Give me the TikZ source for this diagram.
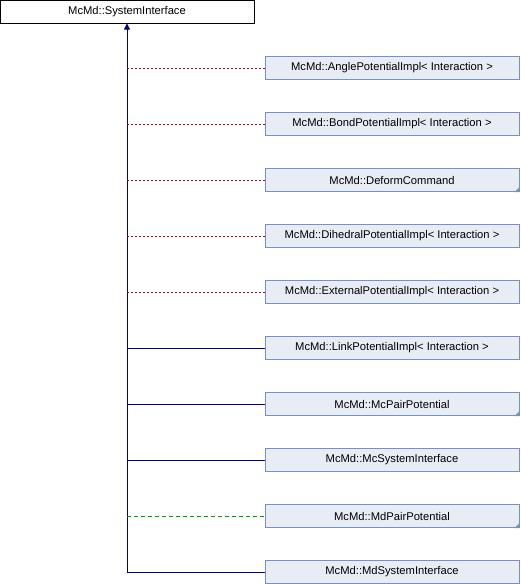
\documentclass[tikz,border=0pt]{standalone}
\usepackage{fontspec}
\setmainfont{Liberation Sans}
\usetikzlibrary{arrows.meta}

\definecolor{boxfill}{RGB}{232,236,245}
\definecolor{boxline}{RGB}{122,143,200}
\definecolor{publine}{RGB}{0,0,140}
\definecolor{privline}{RGB}{170,0,0}
\definecolor{protline}{RGB}{0,160,0}

\tikzset{
    classbox/.style={draw=boxline, fill=boxfill, line width=1pt, minimum width=254pt, minimum height=23pt, inner sep=0pt, font=\fontsize{11.2}{13}\selectfont},
    basebox/.style={classbox, draw=black, fill=white},
    pubedge/.style={draw=publine, line width=1pt},
    privedge/.style={draw=privline, line width=1pt, dash pattern=on 2pt off 2pt},
    protedge/.style={draw=protline, line width=1pt, dash pattern=on 4pt off 3pt},
    corner/.style={fill=boxline, draw=none}
}

\begin{document}
\begin{tikzpicture}[x=1pt,y=-1pt]
    \useasboundingbox (0,0) rectangle (520,584);

    % the base class
    \node[basebox] (base) at (127,11.5) {McMd::SystemInterface};

    % the derived classes
    \node[classbox] (angle) at (392,68) {McMd::AnglePotentialImpl< Interaction >};
    \node[classbox] (bond) at (392,124) {McMd::BondPotentialImpl< Interaction >};
    \node[classbox] (deform) at (392,180) {McMd::DeformCommand};
    \node[classbox] (dihedral) at (392,236) {McMd::DihedralPotentialImpl< Interaction >};
    \node[classbox] (external) at (392,292) {McMd::ExternalPotentialImpl< Interaction >};
    \node[classbox] (link) at (392,348) {McMd::LinkPotentialImpl< Interaction >};
    \node[classbox] (mcpair) at (392,404) {McMd::McPairPotential};
    \node[classbox] (mcsys) at (392,460) {McMd::McSystemInterface};
    \node[classbox] (mdpair) at (392,516) {McMd::MdPairPotential};
    \node[classbox] (mdsys) at (392,572) {McMd::MdSystemInterface};

    % the little corner marks (classes with more below them)
    \fill[corner] (deform.south east) -- ++(-5,0) -- ++(5,-5) -- cycle;
    \fill[corner] (mcpair.south east) -- ++(-5,0) -- ++(5,-5) -- cycle;
    \fill[corner] (mdpair.south east) -- ++(-5,0) -- ++(5,-5) -- cycle;

    % the trunk with the arrow to the base class
    \coordinate (trunk) at (base.south |- mdsys.west);
    \draw[pubedge, -{Triangle[length=6pt,width=6pt]}] (trunk) -- (base.south);

    % the branches
    \draw[privedge] (base.south |- angle.west) -- (angle.west);
    \draw[privedge] (base.south |- bond.west) -- (bond.west);
    \draw[privedge] (base.south |- deform.west) -- (deform.west);
    \draw[privedge] (base.south |- dihedral.west) -- (dihedral.west);
    \draw[privedge] (base.south |- external.west) -- (external.west);
    \draw[pubedge] (base.south |- link.west) -- (link.west);
    \draw[pubedge] (base.south |- mcpair.west) -- (mcpair.west);
    \draw[pubedge] (base.south |- mcsys.west) -- (mcsys.west);
    \draw[protedge] (base.south |- mdpair.west) -- (mdpair.west);
    \draw[pubedge] (trunk) -- (mdsys.west);
\end{tikzpicture}
\end{document}
